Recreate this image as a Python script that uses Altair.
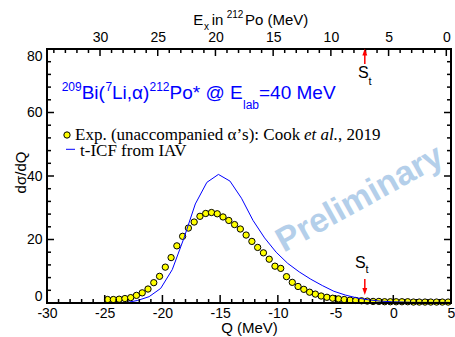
import altair as alt
import pandas as pd

# ---------------- data ----------------
Q_EXP = [-24.75, -24.25, -23.75, -23.25, -22.75, -22.25, -21.75, -21.25, -20.75, -20.25,
         -19.75, -19.25, -18.75, -18.25, -17.75, -17.25, -16.75, -16.25, -15.75, -15.25,
         -14.75, -14.25, -13.75, -13.25, -12.75, -12.25, -11.75, -11.25, -10.75, -10.25,
         -9.75, -9.25, -8.75, -8.25, -7.75, -7.25, -6.75, -6.25, -5.75, -5.25,
         -4.75, -4.25, -3.75, -3.25, -2.75, -2.25, -1.75, -1.25, -0.75, -0.25,
         0.25, 0.75, 1.25, 1.75, 2.25, 2.75, 3.25, 3.75, 4.25, 4.75]
SIG_EXP = [1.1, 1.1, 1.2, 1.4, 1.7, 2.4, 3.2, 4.4, 6.4, 8.4,
           11.3, 14.3, 18.0, 21.0, 23.6, 25.5, 27.3, 28.2, 28.5, 28.1,
           27.1, 26.0, 24.7, 23.3, 21.4, 19.4, 17.5, 15.8, 13.8, 11.6,
           10.9, 8.3, 6.5, 5.2, 4.3, 3.4, 2.8, 2.2, 1.8, 1.5,
           1.3, 1.1, 0.9, 0.8, 0.7, 0.6, 0.5, 0.5, 0.4, 0.4,
           0.4, 0.4, 0.4, 0.3, 0.3, 0.3, 0.3, 0.3, 0.3, 0.3]

Q_ICF = [-23.15, -22.15, -21.15, -20.15, -19.15, -18.15, -17.15, -16.15, -15.15, -14.15,
         -13.15, -12.15, -11.15, -10.15, -9.15, -8.15, -7.15, -6.15, -5.15, -4.15,
         -3.15, -2.15, -1.15, -0.15, 0.85, 1.85, 2.85, 3.85, 4.85]
SIG_ICF = [0.1, 0.8, 2.0, 4.6, 10.5, 20.3, 31.2, 38.0, 40.5, 38.4,
           33.0, 26.0, 20.5, 16.0, 12.5, 9.8, 7.5, 5.5, 3.7, 2.5,
           1.6, 1.0, 0.6, 0.4, 0.3, 0.2, 0.2, 0.2, 0.2]

Q_TICKS = [-30, -25, -20, -15, -10, -5, 0, 5]
Y_TICKS = [0, 20, 40, 60, 80]
EX_TICKS = [0, 5, 10, 15, 20, 25, 30]
Q_GG = 4.593      # ground-state Q value, Ex = Q_GG - Q
S_T = 7.06        # triton separation energy in 212Po
Q_ST = Q_GG - S_T

W, H = 404, 254
SANS = "Liberation Sans"
SERIF = "Liberation Serif"

xs = alt.Scale(domain=[-30, 5], nice=False, zero=False)
ys = alt.Scale(domain=[0, 80], nice=False, zero=False)

exp_df = pd.DataFrame({"Q": Q_EXP, "s": SIG_EXP})
icf_df = pd.DataFrame({"Q": Q_ICF, "s": SIG_ICF})

# tick positions (inward ticks drawn as rules)
q_major = pd.DataFrame({"Q": Q_TICKS})
q_minor = pd.DataFrame({"Q": [v for v in range(-29, 5) if v % 5 != 0]})
ex_major = pd.DataFrame({"Q": [Q_GG - e for e in EX_TICKS]})
ex_minor = pd.DataFrame({"Q": [Q_GG - e for e in range(1, 35) if e % 5 != 0]})
y_major = pd.DataFrame({"v": Y_TICKS})
y_minor = pd.DataFrame({"v": [v for v in range(4, 80, 4) if v % 20 != 0]})


def X_NOAX(f="Q:Q"):
    return alt.X(f, scale=xs, axis=None)


def Y_NOAX(f="s:Q"):
    return alt.Y(f, scale=ys, axis=None)


NODOM = dict(domain=False, ticks=False, tickSize=0, grid=False)

layers = []

# watermark
layers.append(
    alt.Chart(pd.DataFrame({"t": ["Preliminary"]})).mark_text(
        font=SANS, fontSize=34, fontWeight="bold", color="#b4cfea", angle=331,
        align="center", baseline="middle"
    ).encode(x=alt.value(313), y=alt.value(150), text="t:N")
)

# points (with bottom + left axes)
layers.append(
    alt.Chart(exp_df).mark_circle(
        size=40, color="#ffff00", stroke="black", strokeWidth=1, opacity=1
    ).encode(
        x=alt.X("Q:Q", scale=xs, axis=alt.Axis(
            orient="bottom", values=Q_TICKS, labelExpr="'' + datum.value",
            labelFlush=False, labelPadding=3, labelFont=SANS, labelFontSize=14,
            labelColor="black",
            title="Q (MeV)", titleFont=SANS, titleFontSize=15, titleFontWeight="normal",
            titleColor="black", titleBaseline="alphabetic", titleY=29, **NODOM)),
        y=alt.Y("s:Q", scale=ys, axis=alt.Axis(
            orient="left", values=Y_TICKS, labelFlush=True, labelPadding=5,
            labelFont=SANS, labelFontSize=14, labelColor="black",
            title="dσ/dQ", titleFont=SANS, titleFontSize=15, titleFontWeight="normal",
            titleColor="black", titleBaseline="alphabetic", titleX=-22, titleY=123,
            **NODOM)),
    )
)

# top axis (Ex in 212Po) on the same Q scale
layers.append(
    alt.Chart(ex_major).mark_point(opacity=0).encode(
        x=alt.X("Q:Q", scale=xs, axis=alt.Axis(
            orient="top", values=[Q_GG - e for e in EX_TICKS],
            labelExpr="'' + round(%s - datum.value)" % Q_GG,
            labelFlush=False, labelPadding=5, labelFont=SANS, labelFontSize=14,
            labelColor="black", title=None, **NODOM)),
        y=alt.value(0),
    )
)

# calculated line
layers.append(
    alt.Chart(icf_df).mark_line(color="#0000ff", strokeWidth=1).encode(
        x=X_NOAX(), y=Y_NOAX()
    )
)

TK = dict(color="black", strokeWidth=1.5)
# bottom ticks
layers.append(alt.Chart(q_major).mark_rule(**TK).encode(x=X_NOAX(), y=alt.value(H), y2=alt.value(H - 8)))
layers.append(alt.Chart(q_minor).mark_rule(**TK).encode(x=X_NOAX(), y=alt.value(H), y2=alt.value(H - 4)))
# top ticks
layers.append(alt.Chart(ex_major).mark_rule(**TK).encode(x=X_NOAX(), y=alt.value(0), y2=alt.value(7)))
layers.append(alt.Chart(ex_minor).mark_rule(**TK).encode(x=X_NOAX(), y=alt.value(0), y2=alt.value(4)))
# left / right ticks
layers.append(alt.Chart(y_major).mark_rule(**TK).encode(y=Y_NOAX("v:Q"), x=alt.value(0), x2=alt.value(7)))
layers.append(alt.Chart(y_minor).mark_rule(**TK).encode(y=Y_NOAX("v:Q"), x=alt.value(0), x2=alt.value(4)))
layers.append(alt.Chart(y_major).mark_rule(**TK).encode(y=Y_NOAX("v:Q"), x=alt.value(W), x2=alt.value(W - 7)))
layers.append(alt.Chart(y_minor).mark_rule(**TK).encode(y=Y_NOAX("v:Q"), x=alt.value(W), x2=alt.value(W - 4)))

# frame drawn from the axis-limit values through the scales
lim_x = pd.DataFrame({"Q": [-30, 5]})
lim_y = pd.DataFrame({"v": [0, 80]})
FR = dict(color="black", strokeWidth=2)
layers.append(alt.Chart(lim_x).mark_rule(**FR).encode(
    x=X_NOAX(), y=alt.value(-1), y2=alt.value(H + 1)))
layers.append(alt.Chart(lim_y).mark_rule(**FR).encode(
    y=Y_NOAX("v:Q"), x=alt.value(-1), x2=alt.value(W + 1)))

# S_t arrows
st_df = pd.DataFrame({"Q": [Q_ST]})
RED = "#ff0000"
layers.append(alt.Chart(st_df).mark_rule(color=RED, strokeWidth=1.5).encode(
    x=X_NOAX(), y=alt.value(230), y2=alt.value(241)))
layers.append(alt.Chart(st_df).mark_point(
    shape="M-0.7,-1L0.7,-1L0,1Z", filled=True, color=RED, opacity=1, size=49
).encode(x=X_NOAX(), y=alt.value(242.5)))
layers.append(alt.Chart(st_df).mark_rule(color=RED, strokeWidth=1.5).encode(
    x=X_NOAX(), y=alt.value(5), y2=alt.value(15)))
layers.append(alt.Chart(st_df).mark_point(
    shape="M-0.7,1L0.7,1L0,-1Z", filled=True, color=RED, opacity=1, size=49
).encode(x=X_NOAX(), y=alt.value(3)))


def txt(s, x, y, size, color="black", font=SANS, style="normal", align="left"):
    return alt.Chart(pd.DataFrame({"t": [s]})).mark_text(
        font=font, fontSize=size, fontStyle=style, color=color,
        align=align, baseline="alphabetic"
    ).encode(x=alt.value(x), y=alt.value(y), text="t:N")


# S_t labels
layers += [txt("S", 308, 219.3, 16), txt("t", 318.5, 224, 11),
           txt("S", 311, 29.3, 16), txt("t", 321.5, 36, 11)]

# top axis title: E_x in ^212Po (MeV)
layers += [txt("E", 146.3, -24, 15), txt("x", 157, -19.5, 10),
           txt("in", 164.7, -24, 15), txt("212", 179.7, -31.5, 10),
           txt("Po (MeV)", 198, -24, 15)]

# reaction title (x relative to plot left edge at 47 px)
BLUE = "#0000ff"
layers += [txt("209", 14.7, 41.5, 12, BLUE), txt("Bi(", 34.7, 50.3, 19, BLUE),
           txt("7", 58.5, 41.5, 12, BLUE), txt("Li,α)", 65.0, 50.3, 19, BLUE),
           txt("212", 102.5, 41.5, 12, BLUE), txt("Po* @ E", 122.5, 50.3, 19, BLUE),
           txt("lab", 196.0, 60, 12, BLUE), txt("=40 MeV", 212.0, 50.3, 19, BLUE)]

# legend
leg_pt = pd.DataFrame({"k": ["exp"]})
layers.append(alt.Chart(leg_pt).mark_circle(
    size=40, color="#ffff00", stroke="black", strokeWidth=1, opacity=1
).encode(x=alt.value(20), y=alt.value(86)))
layers.append(alt.Chart(leg_pt).mark_rule(color=BLUE, strokeWidth=1).encode(
    x=alt.value(19), x2=alt.value(28), y=alt.value(100.3)))
layers += [txt("Exp. (unaccompanied α’s): Cook ", 28, 90.5, 17, font=SERIF),
           txt("et al.", 257, 90.5, 17, font=SERIF, style="italic"),
           txt(", 2019", 291, 90.5, 17, font=SERIF),
           txt("t-ICF from IAV", 33, 106.5, 17, font=SERIF)]

chart = alt.layer(*layers).resolve_axis(x="independent", y="independent").properties(
    width=W, height=H,
    autosize=alt.AutoSizeParams(type="none"),
    padding={"left": 47, "top": 49, "right": 4, "bottom": 34},
    background="white",
).configure_view(stroke=None)

chart.save("out.html", embed_options={"renderer": "svg", "actions": False})
